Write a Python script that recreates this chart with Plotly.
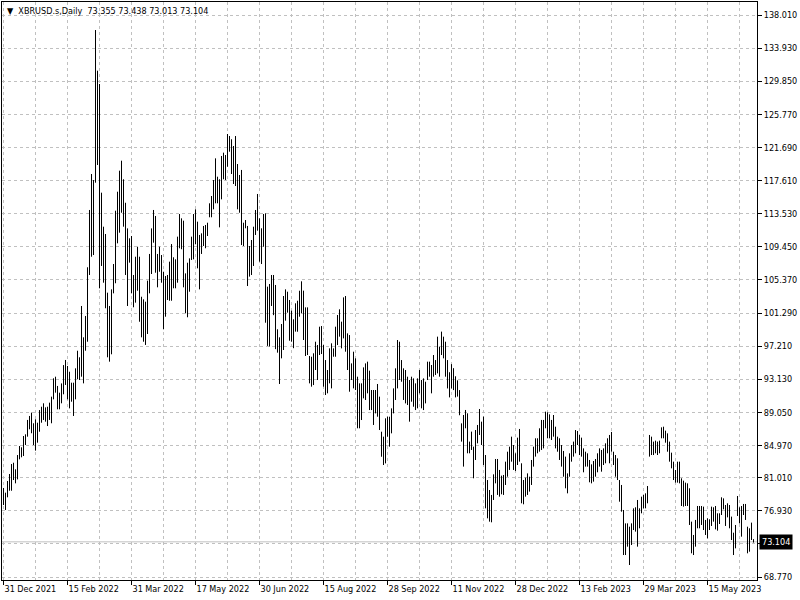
import plotly.graph_objects as go

symbol_title = "XBRUSD.s,Daily"
last_ohlc = [73.355, 73.438, 73.013, 73.104]

high = [
    79.74, 79.16, 80.60, 81.46, 82.69, 82.85, 82.04, 83.80, 84.91, 84.75,
    86.14, 86.35, 88.12, 88.61, 89.02, 87.71, 88.20, 87.78, 89.34, 89.75,
    90.17, 89.67, 89.75, 90.25, 90.99, 93.25, 93.45, 92.31, 91.48, 92.62,
    94.88, 95.51, 94.77, 94.06, 92.71, 92.71, 94.48, 96.65, 95.84, 102.16,
    98.30, 100.93, 106.93, 113.99, 118.42, 117.68, 136.16, 131.15, 129.51, 116.12,
    111.93, 111.03, 103.80, 102.16, 104.21, 107.33, 113.90, 116.24, 118.83, 120.06,
    117.77, 114.88, 111.72, 110.50, 110.78, 105.98, 108.23, 109.46, 108.23, 103.30,
    102.98, 102.69, 105.28, 108.57,
    111.72, 113.99, 113.25, 108.57, 109.46, 108.44, 106.38, 105.85, 105.98, 107.62,
    109.79, 108.16, 107.91, 110.70, 113.49, 112.96, 112.67, 106.18, 107.49, 108.03,
    110.70, 113.49, 114.07, 112.55, 110.91, 111.11, 112.02, 112.14, 112.42, 114.81,
    115.71, 117.68, 120.35, 118.09, 117.77, 120.64, 121.05, 120.76, 123.35, 123.10,
    122.70, 121.87, 123.10, 119.65, 118.30, 118.92, 112.42, 112.75, 112.02, 109.55,
    110.29, 111.93, 113.99, 115.96, 112.96, 111.73, 113.49, 113.58, 104.54, 104.87,
    105.98, 105.98, 104.75, 99.29, 98.30, 99.94, 103.39, 104.21, 103.92, 102.90,
    101.58, 100.52, 102.49, 102.81, 104.04,
    105.20, 104.05, 101.99, 101.99, 96.00, 95.91, 96.33, 97.76, 97.35, 99.61,
    99.69, 97.35, 95.50, 94.27, 96.94, 97.56, 96.94, 99.61, 101.05, 101.75,
    100.23, 103.22, 103.39, 98.79, 98.58, 95.09, 96.53, 95.71, 93.45, 92.63,
    92.63, 94.60, 95.09, 95.30, 94.19, 91.81, 91.81, 91.81, 92.55, 90.99,
    86.67, 86.06, 88.32, 88.52, 88.52, 89.55, 92.01, 94.48, 97.97, 97.76,
    95.50, 94.48, 94.27, 93.45, 93.04, 93.45, 93.24, 92.63, 93.24,
    94.27, 93.04, 93.24, 92.83, 95.30, 95.30, 94.89, 96.12, 95.50, 98.38,
    97.15, 99.00, 98.38, 97.76, 95.50, 94.00, 95.00, 94.50, 93.50, 93.00, 91.80,
    87.70, 88.73, 89.35, 88.94, 85.45, 86.68, 84.83, 86.88, 87.50, 89.47,
    87.91, 88.53, 83.80, 80.72, 79.49, 78.88, 81.42, 83.31, 83.31, 81.96,
    81.26, 81.34, 82.98, 84.21, 84.83, 86.06, 85.03, 84.01, 85.94, 87.01,
    82.78, 80.72, 81.01, 81.54, 81.13, 83.19, 84.83, 85.86, 85.86, 87.09,
    88.12, 88.12, 89.14, 89.06, 88.81, 88.12, 88.73, 87.29, 86.06, 85.86,
    85.03, 84.30, 83.60, 81.54, 84.01, 85.03, 85.45, 86.88, 86.76, 86.27,
    85.94, 84.62, 84.21, 84.01, 83.19, 82.65, 83.06, 83.31, 84.01, 84.62,
    84.42, 84.62, 85.24, 85.86, 86.27, 86.64, 84.21, 83.80, 83.39, 80.72,
    80.11, 77.03, 75.38, 75.38, 74.97, 75.38, 77.23, 77.36, 78.26, 77.23,
    78.67, 78.88, 79.08, 79.98, 86.27, 86.06, 85.45, 85.57, 85.45, 85.57,
    87.21, 87.29, 86.80, 86.47, 85.45, 84.09, 82.98, 81.95, 82.98, 82.98,
    80.93, 80.64, 80.40, 80.31, 79.70, 75.59, 73.95, 75.80, 77.52, 77.52,
    77.52, 77.44, 75.80, 76.00, 75.88, 77.44, 77.36, 77.52, 76.62, 76.62,
    78.59, 78.46, 77.64, 77.85, 77.64, 76.21, 74.23, 75.18, 78.75, 77.36,
    77.52, 77.77, 77.77, 74.97, 74.77, 75.47, 73.438,
]

low = [
    77.64, 77.03, 78.59, 79.40, 79.40, 80.72, 80.31, 80.80, 83.27, 83.52,
    83.68, 85.03, 86.06, 86.97, 86.48, 85.03, 84.34, 85.32, 86.67, 87.78,
    88.12, 87.91, 87.37, 88.12, 87.71, 90.66, 91.48, 89.43, 89.43, 90.17,
    91.28, 92.43, 90.66, 89.55, 90.37, 88.61, 90.66, 93.13, 93.04, 93.45,
    92.63, 96.65, 97.76, 105.98, 108.23, 108.44, 117.35, 119.53, 104.34, 107.09,
    105.03, 101.88, 95.84, 95.30, 96.21, 103.72, 104.96, 109.88, 111.19, 113.65,
    111.93, 105.98, 102.16, 107.50, 103.72, 102.00, 102.57, 104.04, 100.22, 98.30,
    97.76, 97.36, 98.71, 103.72,
    106.10, 109.96, 106.26, 104.46, 106.38, 105.03, 99.29, 100.84, 102.90, 102.81,
    102.81, 104.34, 104.34, 105.03, 109.27, 109.15, 104.46, 101.26, 100.77, 103.92,
    107.83, 107.91, 109.79, 106.80, 104.21, 108.57, 109.55, 109.27, 110.78, 113.09,
    113.09, 114.07, 114.81, 114.81, 111.85, 115.30, 117.77, 117.68, 119.32, 121.17,
    118.42, 117.19, 116.94, 114.07, 113.65, 109.67, 109.55, 111.73, 104.62, 105.78,
    105.98, 107.09, 110.91, 111.44, 107.62, 107.33, 109.46, 100.10, 97.24, 97.16,
    102.16, 101.03, 96.84, 96.41, 92.55, 95.71, 96.74, 100.35, 101.34, 97.88,
    97.76, 96.96, 99.00, 98.99, 100.84,
    101.25, 97.97, 96.00, 96.12, 92.63, 92.22, 92.42, 94.27, 93.04, 96.12,
    96.24, 92.22, 91.19, 91.40, 92.63, 92.01, 95.91, 95.91, 97.35, 98.38,
    96.94, 98.17, 96.53, 94.27, 91.60, 93.04, 92.01, 91.81, 87.09, 87.09,
    88.11, 90.78, 90.58, 91.40, 89.34, 89.34, 87.50, 88.93, 88.52, 86.88,
    83.59, 82.57, 82.77, 86.06, 84.83, 86.47, 88.93, 90.58, 92.01, 93.04,
    92.83, 90.58, 90.16, 89.96, 87.91, 90.37, 89.75, 89.34, 89.55,
    91.40, 89.55, 89.34, 90.16, 93.04, 93.45, 91.40, 93.45, 93.66, 93.86,
    93.45, 96.12, 95.71, 93.45, 92.00, 90.90, 92.00, 91.80, 90.90, 91.00, 88.70,
    85.45, 82.37, 87.09, 84.01, 84.01, 84.42, 80.93, 83.19, 85.24, 86.27,
    85.03, 82.57, 77.23, 76.00, 75.59, 75.51, 78.26, 80.31, 78.88, 78.67,
    78.96, 78.88, 80.11, 81.13, 81.96, 82.98, 81.96, 81.83, 82.57, 82.98,
    77.85, 77.73, 78.67, 78.88, 79.29, 80.11, 82.37, 83.60, 84.01, 84.21,
    84.42, 84.62, 87.09, 85.86, 85.86, 85.65, 86.06, 84.62, 84.21, 83.19,
    82.37, 81.13, 79.70, 79.08, 81.13, 82.98, 83.60, 84.01, 85.03, 83.80,
    83.60, 81.67, 82.37, 82.37, 80.44, 80.31, 80.52, 81.13, 81.67, 82.37,
    81.75, 82.57, 82.78, 84.01, 82.78, 84.21, 82.57, 81.13, 80.72, 78.05,
    76.82, 71.48, 71.48, 72.51, 70.25, 72.71, 74.56, 74.36, 72.51, 74.77,
    76.62, 77.23, 77.23, 77.85, 83.60, 83.80, 83.80, 84.01, 83.80, 84.01,
    85.86, 85.86, 85.32, 84.21, 82.98, 82.16, 80.72, 80.40, 80.40, 80.31,
    77.52, 77.44, 77.52, 77.52, 75.18, 71.69, 71.48, 72.51, 74.77, 74.77,
    75.18, 74.56, 73.95, 73.54, 74.56, 75.06, 75.59, 74.64, 74.48, 75.30,
    76.41, 77.11, 75.06, 76.12, 74.77, 73.33, 71.48, 72.30, 76.29, 75.38,
    73.74, 76.41, 75.80, 71.69, 71.89, 73.33, 73.013,
]

date_labels = ["31 Dec 2021", "15 Feb 2022", "31 Mar 2022", "17 May 2022",
               "30 Jun 2022", "15 Aug 2022", "28 Sep 2022", "11 Nov 2022",
               "28 Dec 2022", "13 Feb 2023", "29 Mar 2023", "15 May 2023"]
label_step = 32   # bars between date labels
grid_step = 16    # bars between vertical grid lines

price_ticks = [138.010, 133.930, 129.850, 125.770, 121.690, 117.610, 113.530,
               109.450, 105.370, 101.290, 97.210, 93.130, 89.050, 84.970,
               81.010, 76.930, 72.850, 68.770]
hidden_tick = 72.850

FONT = "DejaVu Sans Condensed, Liberation Sans, sans-serif"
FSIZE = 9
GRID = "#c0c0c0"

n = min(len(high), len(low))
xs, ys = [], []
for i in range(n):
    xs += [i, i, None]
    ys += [low[i], high[i], None]

fig = go.Figure()
fig.add_trace(go.Scatter(x=xs, y=ys, mode="lines",
                         line=dict(color="black", width=1),
                         hoverinfo="skip", showlegend=False))

last_close = last_ohlc[3]
fig.add_shape(type="line", xref="paper", x0=0, x1=1, yref="y",
              y0=last_close, y1=last_close,
              line=dict(color=GRID, width=1), layer="below")

fig.add_annotation(xref="paper", yref="y", x=1, y=last_close,
                   xanchor="left", yanchor="middle", xshift=2,
                   text="%.3f" % last_close, showarrow=False,
                   bgcolor="black", font=dict(color="white", family=FONT, size=FSIZE),
                   borderpad=2)

title_txt = "\u25BC\u00a0\u00a0" + symbol_title + "\u00a0\u00a0" + " ".join("%.3f" % v for v in last_ohlc)
fig.add_annotation(xref="paper", yref="paper", x=0, y=1, xanchor="left", yanchor="top",
                   xshift=3, yshift=-2, text=title_txt, showarrow=False,
                   font=dict(color="black", family=FONT, size=FSIZE))

tickvals_x = [k * label_step for k in range(len(date_labels))]

fig.update_layout(
    width=800, height=600,
    margin=dict(l=2, r=43, t=2, b=20, autoexpand=False),
    paper_bgcolor="white", plot_bgcolor="white",
    font=dict(family=FONT, size=FSIZE, color="black"),
    xaxis=dict(range=[-0.75, 376.75], tickvals=tickvals_x, ticktext=date_labels,
               ticks="outside", ticklen=4, tickcolor="black", tickangle=0,
               ticklabelposition="outside right", automargin=False,
               showgrid=True, gridcolor=GRID, griddash="3px,3px", gridwidth=1,
               minor=dict(dtick=grid_step, tick0=0, showgrid=True, gridcolor=GRID,
                          griddash="3px,3px", ticks=""),
               showline=True, linecolor="black", linewidth=1, mirror=True,
               zeroline=False, fixedrange=True),
    yaxis=dict(range=[68.402, 139.612], side="right", automargin=False,
               tickvals=price_ticks,
               ticktext=["" if abs(v - hidden_tick) < 1e-6 else "%.3f" % v for v in price_ticks],
               ticks="outside", ticklen=4, tickcolor="black",
               showgrid=True, gridcolor=GRID, griddash="3px,3px", gridwidth=1,
               showline=True, linecolor="black", linewidth=1, mirror=True,
               zeroline=False, fixedrange=True),
)

fig.write_html("out.html", config={"displayModeBar": False},
               post_script="document.body.style.margin='0';document.body.style.overflow='hidden';")
